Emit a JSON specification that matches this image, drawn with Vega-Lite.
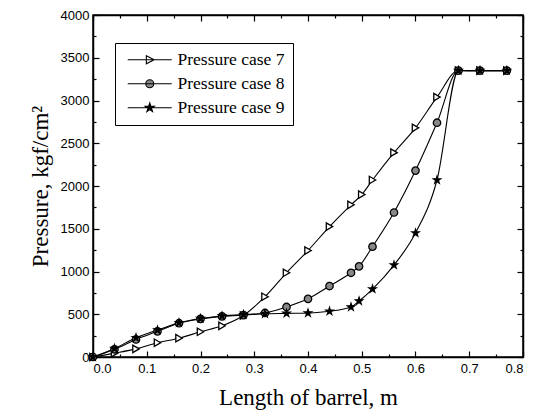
{
  "$schema": "https://vega.github.io/schema/vega-lite/v6.json",
  "width": 430,
  "height": 342,
  "autosize": {"type": "none"},
  "padding": {"left": 93, "top": 15, "right": 17, "bottom": 58},
  "background": "white",
  "config": {
    "view": {"stroke": "black", "strokeWidth": 1.5},
    "axis": {"domainColor": "black", "tickColor": "black", "labelColor": "black", "titleColor": "black", "grid": false, "labelFont": "Liberation Sans", "labelFontSize": 13, "titleFont": "Liberation Serif", "titleFontSize": 23, "titleFontWeight": "normal", "domainWidth": 1.5, "tickWidth": 1.2},
    "legend": {"labelFont": "Liberation Serif", "labelFontSize": 17.5, "labelColor": "black"}
  },
  "data": {"values": [
    {"x":0,"p":0,"series":"Pressure case 7"},
    {"x":0.04,"p":45,"series":"Pressure case 7"},
    {"x":0.08,"p":95,"series":"Pressure case 7"},
    {"x":0.12,"p":167,"series":"Pressure case 7"},
    {"x":0.16,"p":220,"series":"Pressure case 7"},
    {"x":0.20,"p":295,"series":"Pressure case 7"},
    {"x":0.24,"p":365,"series":"Pressure case 7"},
    {"x":0.28,"p":485,"series":"Pressure case 7"},
    {"x":0.32,"p":705,"series":"Pressure case 7"},
    {"x":0.36,"p":985,"series":"Pressure case 7"},
    {"x":0.40,"p":1245,"series":"Pressure case 7"},
    {"x":0.44,"p":1525,"series":"Pressure case 7"},
    {"x":0.48,"p":1780,"series":"Pressure case 7"},
    {"x":0.50,"p":1900,"series":"Pressure case 7"},
    {"x":0.52,"p":2070,"series":"Pressure case 7"},
    {"x":0.56,"p":2390,"series":"Pressure case 7"},
    {"x":0.60,"p":2680,"series":"Pressure case 7"},
    {"x":0.64,"p":3040,"series":"Pressure case 7"},
    {"x":0.68,"p":3350,"series":"Pressure case 7"},
    {"x":0.72,"p":3350,"series":"Pressure case 7"},
    {"x":0.77,"p":3350,"series":"Pressure case 7"},
    {"x":0,"p":0,"series":"Pressure case 8"},
    {"x":0.04,"p":90,"series":"Pressure case 8"},
    {"x":0.08,"p":205,"series":"Pressure case 8"},
    {"x":0.12,"p":300,"series":"Pressure case 8"},
    {"x":0.16,"p":395,"series":"Pressure case 8"},
    {"x":0.20,"p":445,"series":"Pressure case 8"},
    {"x":0.24,"p":475,"series":"Pressure case 8"},
    {"x":0.28,"p":490,"series":"Pressure case 8"},
    {"x":0.32,"p":515,"series":"Pressure case 8"},
    {"x":0.36,"p":585,"series":"Pressure case 8"},
    {"x":0.40,"p":680,"series":"Pressure case 8"},
    {"x":0.44,"p":830,"series":"Pressure case 8"},
    {"x":0.48,"p":985,"series":"Pressure case 8"},
    {"x":0.495,"p":1060,"series":"Pressure case 8"},
    {"x":0.52,"p":1290,"series":"Pressure case 8"},
    {"x":0.56,"p":1690,"series":"Pressure case 8"},
    {"x":0.60,"p":2180,"series":"Pressure case 8"},
    {"x":0.64,"p":2740,"series":"Pressure case 8"},
    {"x":0.68,"p":3350,"series":"Pressure case 8"},
    {"x":0.72,"p":3350,"series":"Pressure case 8"},
    {"x":0.77,"p":3350,"series":"Pressure case 8"},
    {"x":0,"p":0,"series":"Pressure case 9"},
    {"x":0.04,"p":100,"series":"Pressure case 9"},
    {"x":0.08,"p":225,"series":"Pressure case 9"},
    {"x":0.12,"p":315,"series":"Pressure case 9"},
    {"x":0.16,"p":400,"series":"Pressure case 9"},
    {"x":0.20,"p":450,"series":"Pressure case 9"},
    {"x":0.24,"p":480,"series":"Pressure case 9"},
    {"x":0.28,"p":495,"series":"Pressure case 9"},
    {"x":0.32,"p":505,"series":"Pressure case 9"},
    {"x":0.36,"p":510,"series":"Pressure case 9"},
    {"x":0.40,"p":515,"series":"Pressure case 9"},
    {"x":0.44,"p":535,"series":"Pressure case 9"},
    {"x":0.48,"p":585,"series":"Pressure case 9"},
    {"x":0.495,"p":655,"series":"Pressure case 9"},
    {"x":0.52,"p":795,"series":"Pressure case 9"},
    {"x":0.56,"p":1075,"series":"Pressure case 9"},
    {"x":0.60,"p":1450,"series":"Pressure case 9"},
    {"x":0.64,"p":2070,"series":"Pressure case 9"},
    {"x":0.68,"p":3350,"series":"Pressure case 9"},
    {"x":0.72,"p":3350,"series":"Pressure case 9"},
    {"x":0.77,"p":3350,"series":"Pressure case 9"}
  ]},
  "resolve": {"axis": {"x": "independent", "y": "independent"}, "scale": {"shape": "independent", "fill": "independent", "stroke": "independent"}},
  "layer": [
    {
      "mark": {"type": "line", "color": "black", "strokeWidth": 1.1, "interpolate": "monotone"},
      "encoding": {
        "x": {"field": "x", "type": "quantitative", "scale": {"domain": [0, 0.8], "nice": false, "padding": 0, "zero": false}, "title": "Length of barrel, m",
              "axis": {"values": [0,0.1,0.2,0.3,0.4,0.5,0.6,0.7,0.8], "format": ".1f", "tickSize": -6, "labelPadding": 11, "titlePadding": 11}},
        "y": {"field": "p", "type": "quantitative", "scale": {"domain": [0, 4000], "nice": false, "padding": 0, "zero": false}, "title": "Pressure, kgf/cm²",
              "axis": {"values": [0,500,1000,1500,2000,2500,3000,3500,4000], "format": "d", "tickSize": -6, "labelPadding": 10, "titlePadding": 8}},
        "detail": {"field": "series"}
      }
    },
    {
      "mark": {"type": "point", "opacity": 0},
      "encoding": {
        "x": {"field": "x", "type": "quantitative", "axis": {"orient": "bottom", "values": [0.05,0.15,0.25,0.35,0.45,0.55,0.65,0.75], "labels": false, "domain": false, "tickSize": -3, "title": null}},
        "y": {"field": "p", "type": "quantitative", "axis": {"orient": "left", "values": [250,750,1250,1750,2250,2750,3250,3750], "labels": false, "domain": false, "tickSize": -3, "title": null}}
      }
    },
    {
      "mark": {"type": "point", "opacity": 0},
      "encoding": {
        "x": {"field": "x", "type": "quantitative", "axis": {"orient": "top", "values": [0,0.1,0.2,0.3,0.4,0.5,0.6,0.7,0.8], "labels": false, "tickSize": -6, "title": null}},
        "y": {"field": "p", "type": "quantitative", "axis": {"orient": "right", "values": [0,500,1000,1500,2000,2500,3000,3500,4000], "labels": false, "tickSize": -6, "title": null}}
      }
    },
    {
      "mark": {"type": "point", "opacity": 0},
      "encoding": {
        "x": {"field": "x", "type": "quantitative", "axis": {"orient": "top", "values": [0.05,0.15,0.25,0.35,0.45,0.55,0.65,0.75], "labels": false, "domain": false, "tickSize": -3, "title": null}},
        "y": {"field": "p", "type": "quantitative", "axis": {"orient": "right", "values": [250,750,1250,1750,2250,2750,3250,3750], "labels": false, "domain": false, "tickSize": -3, "title": null}}
      }
    },
    {
      "mark": {"type": "point", "filled": false, "stroke": "black", "strokeWidth": 1.3, "size": 55, "opacity": 1},
      "encoding": {
        "x": {"field": "x", "type": "quantitative", "axis": null},
        "y": {"field": "p", "type": "quantitative", "axis": null},
        "shape": {"field": "series", "type": "nominal",
          "scale": {"domain": ["Pressure case 7","Pressure case 8","Pressure case 9"],
                    "range": ["triangle-right", "circle", "M0,-1L0.2245,-0.309L0.951,-0.309L0.363,0.118L0.588,0.809L0,0.382L-0.588,0.809L-0.363,0.118L-0.951,-0.309L-0.2245,-0.309Z"]},
          "legend": null},
        "fill": {"field": "series", "type": "nominal",
          "scale": {"domain": ["Pressure case 7","Pressure case 8","Pressure case 9"], "range": ["white", "#888888", "black"]},
          "legend": null}
      }
    },
    {
      "transform": [{"filter": "datum.x < -1"}],
      "mark": {"type": "point", "filled": false, "opacity": 1, "strokeWidth": 1.1},
      "encoding": {
        "x": {"field": "x", "type": "quantitative", "axis": null},
        "y": {"field": "p", "type": "quantitative", "axis": null},
        "shape": {"field": "series", "type": "nominal",
          "scale": {"domain": ["Pressure case 7","Pressure case 8","Pressure case 9"],
                    "range": ["M-5.5,0L5.5,0M-0.85,-1L1.1,0L-0.85,1Z", "M-5.5,0L5.5,0M-1,0A1,1 0 1,0 1,0A1,1 0 1,0 -1,0Z", "M-5.5,0L5.5,0M0,-1.2L0.27,-0.37L1.14,-0.37L0.44,0.14L0.71,0.97L0,0.46L-0.71,0.97L-0.44,0.14L-1.14,-0.37L-0.27,-0.37Z"]},
          "legend": {"title": null, "orient": "none", "legendX": 22, "legendY": 28, "strokeColor": "black", "fillColor": "white", "padding": 8, "labelFont": "Liberation Serif", "labelFontSize": 17.5, "labelColor": "black", "symbolSize": 64, "symbolStrokeWidth": 1.1, "symbolOffset": 18, "labelOffset": 19, "rowPadding": 5, "labelLimit": 200}},
        "fill": {"field": "series", "type": "nominal",
          "scale": {"domain": ["Pressure case 7","Pressure case 8","Pressure case 9"], "range": ["white", "#888888", "black"]},
          "legend": {"title": null, "orient": "none", "legendX": 22, "legendY": 28, "strokeColor": "black", "fillColor": "white", "padding": 8, "labelFont": "Liberation Serif", "labelFontSize": 17.5, "labelColor": "black", "symbolSize": 64, "symbolStrokeWidth": 1.1, "symbolOffset": 18, "labelOffset": 19, "rowPadding": 5, "labelLimit": 200}},
        "stroke": {"field": "series", "type": "nominal",
          "scale": {"domain": ["Pressure case 7","Pressure case 8","Pressure case 9"], "range": ["black", "black", "black"]},
          "legend": {"title": null, "orient": "none", "legendX": 22, "legendY": 28, "strokeColor": "black", "fillColor": "white", "padding": 8, "labelFont": "Liberation Serif", "labelFontSize": 17.5, "labelColor": "black", "symbolSize": 64, "symbolStrokeWidth": 1.1, "symbolOffset": 18, "labelOffset": 19, "rowPadding": 5, "labelLimit": 200}}
      }
    }
  ]
}
